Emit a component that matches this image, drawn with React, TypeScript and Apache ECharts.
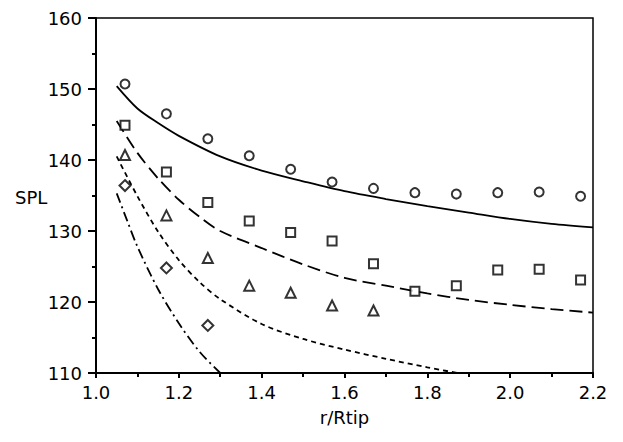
import React, { useEffect, useRef } from "react";
import * as echarts from "echarts";

const xTicks = [1.0, 1.2, 1.4, 1.6, 1.8, 2.0, 2.2];
const markerX = [1.07, 1.17, 1.27, 1.37, 1.47, 1.57, 1.67, 1.77, 1.87, 1.97, 2.07, 2.17];
const circleY = [150.7, 146.5, 143.0, 140.6, 138.7, 136.9, 136.0, 135.4, 135.2, 135.4, 135.5, 134.9];
const squareY = [144.9, 138.3, 134.0, 131.4, 129.8, 128.6, 125.4, 121.5, 122.3, 124.5, 124.6, 123.1];
const triangleY = [140.7, 132.2, 126.2, 122.3, 121.3, 119.5, 118.8];
const diamondY = [136.4, 124.8, 116.7];

const solidX = [1.05, 1.1, 1.15, 1.2, 1.3, 1.4, 1.5, 1.6, 1.7, 1.8, 1.9, 2.0, 2.1, 2.2];
const solidY = [150.4, 147.25, 145.2, 143.4, 140.5, 138.5, 137.0, 135.6, 134.5, 133.5, 132.6, 131.7, 131.0, 130.5];
const dashedX = [1.05, 1.1, 1.15, 1.2, 1.25, 1.3, 1.4, 1.5, 1.6, 1.7, 1.8, 1.9, 2.0, 2.1, 2.2];
const dashedY = [145.5, 141.0, 137.4, 134.4, 132.0, 130.0, 127.6, 125.3, 123.4, 122.3, 121.2, 120.3, 119.6, 119.0, 118.5];
const dottedX = [1.05, 1.1, 1.15, 1.2, 1.25, 1.3, 1.4, 1.5, 1.6, 1.7, 1.8, 1.9];
const dottedY = [140.5, 134.9, 129.9, 125.9, 122.8, 120.4, 116.9, 114.8, 113.3, 112.0, 110.8, 109.7];
const dashDotX = [1.05, 1.075, 1.1, 1.15, 1.2, 1.25, 1.3, 1.35];
const dashDotY = [135.3, 131.5, 127.8, 121.8, 117.0, 113.0, 110.0, 107.3];

const FONT = "DejaVu Sans";

function pairs(xs: number[], ys: number[]) {
  return ys.map((y, i) => [xs[i], y]);
}

export default function App() {
  const ref = useRef<HTMLDivElement>(null);
  useEffect(() => {
    if (!ref.current) return;
    const chart = echarts.init(ref.current, undefined, { renderer: "svg" });
    const marker = (symbol: string, size: number, ys: number[]) => ({
      type: "scatter",
      symbol,
      symbolSize: size,
      data: pairs(markerX, ys),
      itemStyle: { color: "#fff", borderColor: "#000", borderWidth: 2 },
      z: 5,
    });
    const line = (xs: number[], ys: number[], type: any) => ({
      type: "line",
      data: pairs(xs, ys),
      smooth: 0.3,
      showSymbol: false,
      symbol: "none",
      clip: true,
      lineStyle: { color: "#000", width: 1.8, type },
      z: 3,
    });
    chart.setOption({
      animation: false,
      backgroundColor: "#fff",
      grid: {
        left: 96,
        right: 30,
        top: 18,
        bottom: 69,
        show: true,
        borderColor: "#000",
        borderWidth: 1.5,
      },
      xAxis: {
        type: "value",
        min: 1.0,
        max: 2.2,
        interval: 0.2,
        name: "r/Rtip",
        nameLocation: "middle",
        nameGap: 35,
        nameTextStyle: { fontFamily: FONT, fontSize: 18, color: "#000" },
        axisLine: { show: true, onZero: false, lineStyle: { color: "#000", width: 2 } },
        axisTick: { show: true, length: 5, lineStyle: { color: "#000", width: 2 } },
        minorTick: { show: true, splitNumber: 2, length: 4, lineStyle: { color: "#000", width: 2 } },
        splitLine: { show: false },
        axisLabel: {
          margin: 10,
          fontFamily: FONT,
          fontSize: 18,
          color: "#000",
          formatter: (v: number) => (xTicks.some((t) => Math.abs(t - v) < 1e-6) ? v.toFixed(1) : ""),
        },
      },
      yAxis: {
        type: "value",
        min: 110,
        max: 160,
        interval: 10,
        axisLine: { show: true, onZero: false, lineStyle: { color: "#000", width: 2 } },
        axisTick: { show: true, length: 8, lineStyle: { color: "#000", width: 2 } },
        minorTick: { show: true, splitNumber: 2, length: 4, lineStyle: { color: "#000", width: 2 } },
        splitLine: { show: false },
        axisLabel: { margin: 14, fontFamily: FONT, fontSize: 18, color: "#000" },
      },
      graphic: [
        {
          type: "text",
          left: 15,
          top: 188,
          style: { text: "SPL", fontFamily: FONT, fontSize: 18, fill: "#000" },
        },
      ],
      series: [
        line(solidX, solidY, "solid"),
        line(dashedX, dashedY, [13, 6]),
        line(dottedX, dottedY, [5, 4]),
        line(dashDotX, dashDotY, [10, 4, 2, 4]),
        marker("circle", 9, circleY),
        marker("rect", 9, squareY),
        marker("triangle", 10, triangleY),
        marker("diamond", 11, diamondY),
      ],
    });
    return () => chart.dispose();
  }, []);
  return (
    <div
      ref={ref}
      style={{ position: "fixed", left: 0, top: 0, width: 623, height: 442, background: "#fff" }}
    />
  );
}
